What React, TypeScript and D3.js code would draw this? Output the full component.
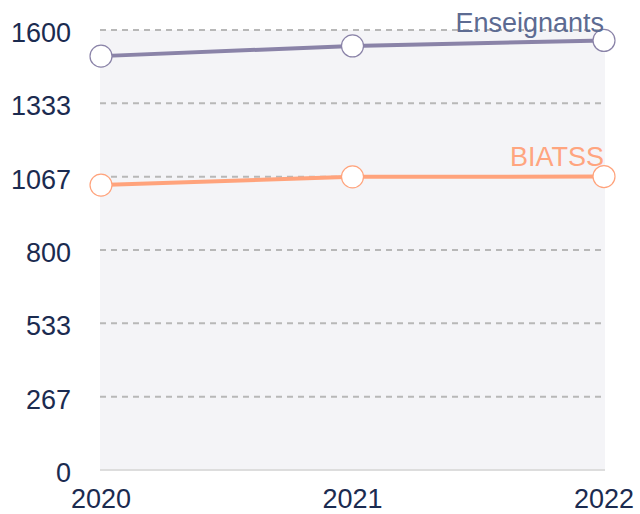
import React from "react";
import * as d3 from "d3";

const years = ["2020", "2021", "2022"];
const enseignants = [1505, 1542, 1562];
const biatss = [1036, 1066, 1067];
const yTicks = [0, 266.67, 533.33, 800, 1066.67, 1333.33, 1600];
const seriesNames = ["Enseignants", "BIATSS"];

const W = 640, H = 514;
const left = 101, right = 604, top = 30, bottom = 470;

export default function App() {
  const x = d3.scalePoint<string>().domain(years).range([left, right]);
  const y = d3.scaleLinear().domain([0, 1600]).range([bottom, top]);
  const line = d3.line<number>().x((_, i) => x(years[i])!).y((d) => y(d));
  const series = [
    { name: seriesNames[0], values: enseignants, line: "#8a83a8", label: "#5d6b92", dy: -8 },
    { name: seriesNames[1], values: biatss, line: "#ffa37c", label: "#ffa57f", dy: -11 },
  ];
  const font = "'Liberation Sans', Arial, sans-serif";
  return (
    <svg width={W} height={H} style={{ position: "absolute", left: 0, top: 0 }}>
      <rect x={100} y={top} width={505} height={bottom - top} fill="#f4f4f7" />
      {yTicks.slice(1).map((t) => (
        <line key={t} x1={100} x2={605} y1={y(t)} y2={y(t)} stroke="#b8b8b8" strokeWidth={2} strokeDasharray="6,5" />
      ))}
      <line x1={100} x2={605} y1={bottom} y2={bottom} stroke="#dddddd" strokeWidth={2} />
      {yTicks.map((t) => (
        <text key={t} x={71} y={y(t) + 12} textAnchor="end" fontFamily={font} fontSize={27} fill="#1b2b50">
          {Math.round(t)}
        </text>
      ))}
      {years.map((yr) => (
        <text key={yr} x={x(yr)!} y={508} textAnchor="middle" fontFamily={font} fontSize={27} fill="#1b2b50">
          {yr}
        </text>
      ))}
      {series.map((s) => (
        <g key={s.name}>
          <path d={line(s.values)!} fill="none" stroke={s.line} strokeWidth={4} />
          {s.values.map((v, i) => (
            <circle key={i} cx={x(years[i])!} cy={y(v)} r={11} fill="#ffffff" stroke={s.line} strokeWidth={1.2} />
          ))}
          <text x={604} y={y(s.values[2]) + s.dy} textAnchor="end" fontFamily={font} fontSize={27} fill={s.label}>
            {s.name}
          </text>
        </g>
      ))}
    </svg>
  );
}
